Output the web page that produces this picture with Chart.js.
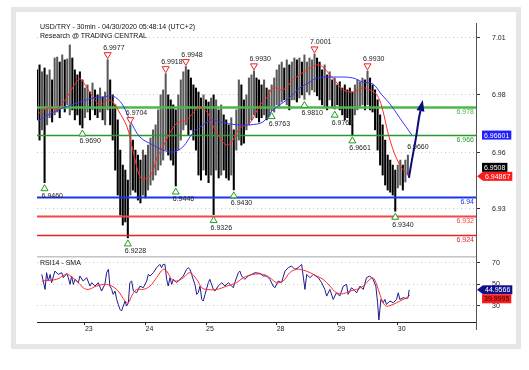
<!DOCTYPE html>
<html lang="en">
<head>
<meta charset="UTF-8">
<title>USD/TRY - 30min</title>
<script src="https://cdn.jsdelivr.net/npm/chart.js"></script>
<style>
  body { margin: 0; background: #fff; font-family: "Liberation Sans", Arial, sans-serif; }
  .wrap { position: relative; width: 529px; height: 370px; overflow: hidden; }
  .frame { position: absolute; left: 11px; top: 7px; width: 500px; height: 332px; border: 5px solid #e6e6e6; }
  canvas { position: absolute; left: 0; top: 0; }
  .caption { position: absolute; left: 40px; font-size: 7px; line-height: 8px; color: #111; white-space: nowrap; }
</style>
</head>
<body>
<div class="wrap">
  <div class="frame"></div>
  <canvas id="chart" width="529" height="370"></canvas>
  <div class="caption" style="top:22.5px">USD/TRY - 30min - 04/30/2020 05:48:14 (UTC+2)</div>
  <div class="caption" style="top:31.5px">Research @ TRADING CENTRAL</div>
  <div class="caption" style="top:259px">RSI14 - SMA</div>
</div>
<script>
// x is counted in trading hours from the left edge of the chart
const dayHours = [19, 43, 67, 95, 119, 143];
const dayLabels = ['23', '24', '25', '28', '29', '30'];

const priceTicks = [6.935, 6.9585, 6.9829, 7.0068];
const priceTickLabels = ['6.93', '6.96', '6.98', '7.01'];
const rsiTicks = [30, 50, 70];

// hourly high / low of USD/TRY
const priceHigh = [
  6.9934, 6.9955, 6.9926, 6.9942, 6.9913, 6.9934, 6.9892, 6.9984, 6.9988, 6.9967,
  6.9997, 6.9976, 6.9980, 7.0039, 6.9984, 6.9934, 6.9913, 6.9926, 6.9892, 6.9858,
  6.9871, 6.9841, 6.9879, 6.9850, 6.9829, 6.9858, 6.9820, 6.9841, 6.9977, 6.9892,
  6.9829, 6.9787, 6.9724, 6.9597, 6.9534, 6.9513, 6.9471, 6.9704, 6.9639, 6.9597,
  6.9576, 6.9555, 6.9597, 6.9576, 6.9618, 6.9648, 6.9682, 6.9703, 6.9766, 6.9829,
  6.9850, 6.9918, 6.9829, 6.9808, 6.9787, 6.9766, 6.9829, 6.9892, 6.9926, 6.9948,
  6.9934, 6.9900, 6.9871, 6.9858, 6.9841, 6.9816, 6.9829, 6.9808, 6.9799, 6.9816,
  6.9829, 6.9808, 6.9766, 6.9787, 6.9745, 6.9724, 6.9703, 6.9733, 6.9682, 6.9766,
  6.9892, 6.9871, 6.9808, 6.9829, 6.9900, 6.9913, 6.9930, 6.9900, 6.9892, 6.9871,
  6.9892, 6.9858, 6.9850, 6.9871, 6.9900, 6.9934, 6.9955, 6.9967, 6.9942, 6.9976,
  6.9955, 6.9967, 6.9984, 6.9976, 6.9984, 6.9967, 6.9997, 6.9967, 6.9984, 6.9976,
  7.0001, 6.9984, 6.9967, 6.9934, 6.9955, 6.9913, 6.9926, 6.9892, 6.9900, 6.9871,
  6.9884, 6.9858, 6.9871, 6.9850, 6.9858, 6.9841, 6.9871, 6.9892, 6.9884, 6.9900,
  6.9892, 6.9930, 6.9900, 6.9871, 6.9850, 6.9808, 6.9745, 6.9703, 6.9639, 6.9576,
  6.9555, 6.9534, 6.9513, 6.9534, 6.9555, 6.9534, 6.9555, 6.9576
];
const priceLow = [
  6.9724, 6.9639, 6.9682, 6.9460, 6.9703, 6.9733, 6.9715, 6.9745, 6.9757, 6.9733,
  6.9774, 6.9757, 6.9787, 6.9745, 6.9766, 6.9724, 6.9745, 6.9703, 6.9690, 6.9733,
  6.9757, 6.9724, 6.9766, 6.9745, 6.9733, 6.9757, 6.9724, 6.9703, 6.9766, 6.9703,
  6.9639, 6.9513, 6.9408, 6.9324, 6.9282, 6.9295, 6.9228, 6.9408, 6.9429, 6.9420,
  6.9387, 6.9375, 6.9408, 6.9396, 6.9429, 6.9450, 6.9471, 6.9492, 6.9513, 6.9534,
  6.9555, 6.9597, 6.9576, 6.9555, 6.9534, 6.9446, 6.9597, 6.9639, 6.9682, 6.9703,
  6.9661, 6.9682, 6.9639, 6.9597, 6.9492, 6.9471, 6.9513, 6.9492, 6.9460, 6.9492,
  6.9326, 6.9513, 6.9480, 6.9492, 6.9513, 6.9480, 6.9471, 6.9492, 6.9430, 6.9597,
  6.9639, 6.9618, 6.9626, 6.9682, 6.9703, 6.9724, 6.9745, 6.9733, 6.9715, 6.9733,
  6.9745, 6.9724, 6.9733, 6.9763, 6.9757, 6.9787, 6.9774, 6.9799, 6.9808, 6.9787,
  6.9766, 6.9808, 6.9808, 6.9799, 6.9816, 6.9829, 6.9810, 6.9841, 6.9829, 6.9850,
  6.9841, 6.9825, 6.9808, 6.9787, 6.9774, 6.9766, 6.9808, 6.9774, 6.9769, 6.9787,
  6.9766, 6.9745, 6.9724, 6.9733, 6.9703, 6.9661, 6.9745, 6.9766, 6.9774, 6.9787,
  6.9766, 6.9787, 6.9766, 6.9757, 6.9682, 6.9597, 6.9534, 6.9492, 6.9450, 6.9429,
  6.9420, 6.9408, 6.9340, 6.9438, 6.9450, 6.9429, 6.9463, 6.9492
];
const lastClose = 6.9508;

// bars that carry a high / low marker
const topMarks = [28, 37, 51, 59, 86, 110, 131];
const bottomMarks = [3, 18, 36, 55, 70, 78, 93, 106, 118, 125, 142];

// moving averages on price
const redMaHours = [0.4, 4.4, 7.9, 11.9, 14.3, 17.0, 19.8, 22.2, 25.0, 28.1, 30.1, 32.1, 35.7, 38.0, 40.8,
  42.8, 45.6, 47.5, 49.9, 52.7, 55.5, 59.4, 61.8, 64.6, 67.4, 69.3, 72.5, 75.3, 77.7, 80.4, 84.4, 88.4,
  91.1, 93.5, 97.5, 101.4, 107.0, 110.9, 113.3, 116.1, 118.9, 121.2, 125.2, 129.2, 131.9, 134.7, 136.7,
  139.9, 143.8, 147.8];
const redMaValues = [6.9749, 6.9774, 6.9770, 6.9820, 6.9862, 6.9896, 6.9858, 6.9820, 6.9787, 6.9808,
  6.9799, 6.9766, 6.9694, 6.9597, 6.9484, 6.9476, 6.9501, 6.9564, 6.9610, 6.9669, 6.9711, 6.9724,
  6.9753, 6.9778, 6.9757, 6.9711, 6.9648, 6.9618, 6.9639, 6.9690, 6.9711, 6.9787, 6.9816, 6.9858,
  6.9850, 6.9892, 6.9934, 6.9955, 6.9946, 6.9913, 6.9879, 6.9850, 6.9841, 6.9858, 6.9850, 6.9829,
  6.9778, 6.9639, 6.9534, 6.94867];
const blueMaHours = [0.4, 5.2, 10.3, 17.0, 22.2, 26.1, 30.1, 33.7, 36.8, 40.8, 46.0, 49.9, 53.9, 57.8,
  61.8, 65.8, 69.3, 72.5, 79.2, 84.4, 89.5, 93.5, 99.0, 104.2, 108.2, 110.9, 120.0, 125.2, 129.2,
  133.1, 136.7, 139.9, 143.8, 148.6];
const blueMaValues = [6.9719, 6.9749, 6.9774, 6.9799, 6.9816, 6.9820, 6.9824, 6.9791, 6.9724, 6.9652,
  6.9618, 6.9597, 6.9589, 6.9610, 6.9669, 6.9703, 6.9724, 6.9715, 6.9703, 6.9703, 6.9715, 6.9766,
  6.9808, 6.9858, 6.9883, 6.9900, 6.9904, 6.9900, 6.9883, 6.9875, 6.9829, 6.9791, 6.9732, 6.96601];

// support / resistance levels
const levelValues = [6.978, 6.966, 6.94, 6.932, 6.924];
const levelLabels = ['6.978', '6.966', '6.94', '6.932', '6.924'];
const levelColors = ['#4cb84c', '#2a9a2a', '#1c34f0', '#f24848', '#e02626'];
const levelWidths = [2.5, 1.5, 2, 2, 1.5];

// expected path arrow
const arrowHours = [147.4, 148.6, 150.2, 151.4, 152.0];
const arrowPrices = [6.9480, 6.9555, 6.9648, 6.9732, 6.9762];
const arrowLabel = '6.9660';
const arrowLabelPrice = 6.966;

// RSI 14 and its SMA
const rsiHours = [1.9, 3.2, 3.8, 4.5, 5.2, 5.8, 7.1, 8.4, 9.8, 10.4,
  11.8, 12.4, 13.1, 13.7, 14.4, 15.1, 16.4, 17.0, 18.3, 19.7,
  21.0, 21.7, 23.0, 24.3, 25.6, 26.9, 27.6, 28.3, 28.9, 29.6,
  30.2, 30.9, 31.6, 32.2, 32.9, 33.5, 34.2, 34.9, 35.5, 36.2,
  36.8, 37.5, 38.2, 39.5, 40.8, 42.1, 43.5, 44.1, 44.8, 46.1,
  47.4, 48.7, 49.4, 50.0, 50.7, 51.4, 52.0, 52.7, 53.4, 54.0,
  55.3, 56.7, 58.0, 59.3, 59.9, 60.6, 61.3, 61.9, 62.6, 63.3,
  63.9, 64.6, 65.3, 65.9, 66.6, 67.9, 68.5, 69.9, 70.5, 71.8,
  73.2, 74.5, 75.8, 76.5, 77.8, 78.4, 79.8, 80.4, 81.1, 82.4,
  83.7, 85.1, 86.4, 88.4, 89.7, 91.0, 92.3, 93.6, 94.3, 95.6,
  96.9, 98.3, 99.6, 100.9, 102.2, 103.5, 104.9, 105.5, 106.2, 106.9,
  108.2, 109.5, 111.5, 112.8, 114.1, 114.8, 116.1, 117.4, 118.7, 120.0,
  121.4, 122.7, 123.3, 124.7, 126.7, 128.0, 129.3, 130.6, 131.9, 133.2,
  134.3, 135.0, 135.5, 136.3, 137.2, 137.9, 138.5, 139.9, 141.2, 142.5,
  143.2, 143.8, 145.1, 146.5, 147.1, 147.5];
const rsiValues = [59.3, 45.3, 60.9, 53.1, 59.3, 51.6, 62.4, 59.3, 60.9, 56.2,
  60.2, 56.2, 50.0, 57.8, 50.0, 54.7, 51.6, 57.8, 53.1, 56.2,
  48.4, 51.6, 48.4, 51.6, 43.8, 50.0, 60.9, 64.0, 48.4, 45.3,
  40.7, 43.8, 36.0, 31.4, 26.7, 25.2, 29.8, 34.5, 29.8, 32.9,
  51.6, 53.1, 43.8, 42.2, 48.4, 46.9, 53.1, 59.3, 57.8, 60.9,
  65.5, 68.6, 65.5, 68.6, 68.6, 54.7, 48.4, 56.2, 50.0, 54.7,
  51.6, 54.7, 57.8, 64.0, 65.5, 64.0, 59.3, 54.7, 50.0, 40.7,
  42.2, 48.4, 36.0, 34.5, 40.7, 51.6, 54.7, 45.3, 43.8, 48.4,
  51.6, 48.4, 51.6, 50.0, 46.9, 51.6, 60.9, 62.4, 57.8, 54.7,
  57.8, 59.3, 60.9, 60.2, 57.8, 57.8, 54.7, 48.4, 46.9, 53.1,
  51.6, 62.4, 65.5, 67.1, 64.0, 65.5, 68.6, 57.8, 45.3, 59.3,
  56.2, 59.3, 56.2, 51.6, 45.3, 39.1, 45.3, 36.0, 42.2, 39.1,
  48.4, 50.0, 40.7, 46.9, 42.2, 48.4, 45.3, 56.2, 57.8, 54.7,
  48.4, 32.9, 16.8, 36.0, 32.9, 36.0, 31.4, 34.5, 32.9, 36.0,
  42.2, 36.0, 37.6, 36.7, 37.6, 44.9566];
const rsiMaHours = [1.9, 7.8, 11.8, 15.7, 18.3, 20.3, 23.6, 27.6, 31.6, 34.9,
  36.2, 37.5, 39.5, 42.1, 44.8, 47.4, 50.0, 51.4, 53.4, 55.3,
  58.0, 60.6, 63.3, 65.3, 67.2, 71.2, 75.2, 79.1, 81.7, 85.7,
  89.7, 92.3, 95.0, 97.6, 100.2, 102.9, 105.5, 108.2, 110.8, 113.4,
  116.1, 118.7, 121.4, 124.0, 126.7, 129.3, 131.9, 133.2, 134.6, 135.9,
  137.2, 138.5, 141.2, 143.8, 146.5, 147.8];
const rsiMaValues = [53.1, 54.7, 59.3, 53.1, 46.9, 45.3, 48.4, 50.0, 45.3, 34.5,
  32.9, 39.1, 45.3, 45.3, 48.4, 56.2, 64.0, 62.4, 54.7, 53.1,
  56.2, 60.9, 54.7, 46.9, 45.3, 45.3, 48.4, 51.6, 56.2, 59.3,
  59.3, 56.2, 51.6, 53.1, 60.9, 64.0, 63.3, 60.9, 57.8, 54.7,
  48.4, 42.2, 41.3, 43.8, 45.3, 48.4, 54.7, 56.2, 50.0, 40.7,
  32.9, 29.8, 31.4, 34.5, 37.6, 39.9995];

const FONT = '7px "Liberation Sans", Arial, sans-serif';
const pts = (xs, ys) => xs.map((v, i) => ({ x: v, y: ys[i] }));
const last = arr => arr[arr.length - 1];

// rising bars grey, falling bars black, like the up / down candles
const barColors = priceHigh.map((h, i) => {
  if (i === 0) return '#000';
  return h + priceLow[i] >= priceHigh[i - 1] + priceLow[i - 1] ? '#5a5a5a' : '#000';
});

function triangle(ctx, cx, tipY, baseY, color) {
  ctx.beginPath();
  ctx.moveTo(cx, tipY);
  ctx.lineTo(cx - 3.5, baseY);
  ctx.lineTo(cx + 3.5, baseY);
  ctx.closePath();
  ctx.fillStyle = '#fff';
  ctx.fill();
  ctx.strokeStyle = color;
  ctx.lineWidth = 1;
  ctx.stroke();
}

function tag(ctx, axisX, cy, text, bg, fg, pointer) {
  ctx.font = FONT;
  const w = ctx.measureText(text).width + 4;
  const h = 9;
  const left = axisX + (pointer ? 7 : 6);
  ctx.fillStyle = bg;
  ctx.fillRect(left, cy - h / 2, w, h);
  if (pointer) {
    ctx.beginPath();
    ctx.moveTo(axisX + 1, cy);
    ctx.lineTo(left, cy - h / 2);
    ctx.lineTo(left, cy + h / 2);
    ctx.closePath();
    ctx.fill();
  }
  ctx.fillStyle = fg;
  ctx.textAlign = 'left';
  ctx.textBaseline = 'middle';
  ctx.fillText(text, left + 2, cy + 0.5);
}

const overlay = {
  id: 'overlay',
  afterDatasetDraw(chart, args) {
    if (args.index !== 0) return;
    const { ctx, chartArea: a, scales: { y } } = chart;
    ctx.save();
    ctx.font = FONT;
    levelValues.forEach((v, k) => {
      const py = Math.round(y.getPixelForValue(v)) + 0.5;
      ctx.strokeStyle = levelColors[k];
      ctx.lineWidth = levelWidths[k];
      ctx.beginPath();
      ctx.moveTo(a.left, py);
      ctx.lineTo(a.right, py);
      ctx.stroke();
      ctx.fillStyle = levelColors[k];
      ctx.textAlign = 'right';
      ctx.textBaseline = 'top';
      ctx.fillText(levelLabels[k], a.right - 2, py + 1.5);
    });
    ctx.restore();
  },
  afterDatasetsDraw(chart) {
    const { ctx, chartArea: a, scales: { x, y, y2 } } = chart;
    ctx.save();
    ctx.font = FONT;

    // arrow head
    const n = arrowHours.length;
    const ax1 = x.getPixelForValue(arrowHours[n - 2]), ay1 = y.getPixelForValue(arrowPrices[n - 2]);
    const ax2 = x.getPixelForValue(arrowHours[n - 1]), ay2 = y.getPixelForValue(arrowPrices[n - 1]);
    const ang = Math.atan2(ay2 - ay1, ax2 - ax1);
    const ux = Math.cos(ang), uy = Math.sin(ang);
    ctx.fillStyle = '#0b0b7c';
    ctx.beginPath();
    ctx.moveTo(ax2 + ux * 11, ay2 + uy * 11);
    ctx.lineTo(ax2 - uy * 4, ay2 + ux * 4);
    ctx.lineTo(ax2 + uy * 4, ay2 - ux * 4);
    ctx.closePath();
    ctx.fill();
    ctx.fillStyle = '#222';
    ctx.textAlign = 'center';
    ctx.textBaseline = 'top';
    ctx.fillText(arrowLabel, x.getPixelForValue(arrowHours[2]) + 2, y.getPixelForValue(arrowLabelPrice) + 8);

    // high / low markers
    topMarks.forEach(i => {
      const px = x.getPixelForValue(i), py = y.getPixelForValue(priceHigh[i]);
      triangle(ctx, px, py - 1, py - 7, '#ee2222');
      ctx.fillStyle = '#222';
      ctx.textAlign = 'left';
      ctx.textBaseline = 'alphabetic';
      ctx.fillText(priceHigh[i].toFixed(4), px - 4.5, py - 9.5);
    });
    bottomMarks.forEach(i => {
      const px = x.getPixelForValue(i), py = y.getPixelForValue(priceLow[i]);
      triangle(ctx, px, py + 2, py + 8, '#229922');
      ctx.fillStyle = '#222';
      ctx.textAlign = 'left';
      ctx.textBaseline = 'top';
      ctx.fillText(priceLow[i].toFixed(4), px - 3, py + 10);
    });

    // separator between price and RSI panes
    ctx.fillStyle = '#c4c4c4';
    ctx.fillRect(a.left, y.bottom, a.right - a.left, 1.5);
    ctx.strokeStyle = '#555';
    ctx.lineWidth = 1;
    ctx.beginPath();
    ctx.moveTo(a.right + 0.5, a.bottom);
    ctx.lineTo(a.right + 0.5, a.bottom + 8);
    ctx.stroke();

    // last value tags
    const redY = y.getPixelForValue(last(redMaValues));
    tag(ctx, a.right, y.getPixelForValue(last(blueMaValues)), last(blueMaValues).toFixed(5), '#1f1fff', '#fff', false);
    tag(ctx, a.right, Math.min(y.getPixelForValue(lastClose), redY - 9), lastClose.toFixed(4), '#000', '#fff', false);
    tag(ctx, a.right, redY, last(redMaValues).toFixed(5), '#ff1a1a', '#fff', true);
    const rsiY = y2.getPixelForValue(last(rsiValues));
    tag(ctx, a.right, rsiY, last(rsiValues).toFixed(4), '#10108a', '#fff', true);
    tag(ctx, a.right, Math.max(y2.getPixelForValue(last(rsiMaValues)), rsiY + 9), last(rsiMaValues).toFixed(4), '#ff1a1a', '#111', false);
    ctx.restore();
  }
};

const tickFont = { size: 7, family: '"Liberation Sans", Arial, sans-serif' };

new Chart(document.getElementById('chart'), {
  type: 'bar',
  data: {
    datasets: [
      {
        type: 'bar',
        data: priceHigh.map((h, i) => ({ x: i, y: [priceLow[i], h] })),
        backgroundColor: barColors,
        barThickness: 1.4,
        grouped: false,
        yAxisID: 'y',
        order: 10
      },
      {
        type: 'line',
        data: pts(redMaHours, redMaValues),
        borderColor: '#ff2a2a',
        borderWidth: 1,
        pointRadius: 0,
        tension: 0.35,
        yAxisID: 'y',
        order: 5
      },
      {
        type: 'line',
        data: pts(blueMaHours, blueMaValues),
        borderColor: '#3636ff',
        borderWidth: 1,
        pointRadius: 0,
        tension: 0.35,
        yAxisID: 'y',
        order: 4
      },
      {
        type: 'line',
        data: pts(arrowHours, arrowPrices),
        borderColor: '#0b0b7c',
        borderWidth: 2,
        pointRadius: 0,
        tension: 0.3,
        yAxisID: 'y',
        order: 1
      },
      {
        type: 'line',
        data: pts(rsiHours, rsiValues),
        borderColor: '#1c1c90',
        borderWidth: 1,
        pointRadius: 0,
        tension: 0,
        yAxisID: 'y2',
        order: 3
      },
      {
        type: 'line',
        data: pts(rsiMaHours, rsiMaValues),
        borderColor: '#ff2a2a',
        borderWidth: 1,
        pointRadius: 0,
        tension: 0.35,
        yAxisID: 'y2',
        order: 2
      }
    ]
  },
  options: {
    responsive: false,
    animation: false,
    events: [],
    layout: { padding: { left: 37, top: 23, right: 0, bottom: 0 } },
    plugins: { legend: { display: false }, tooltip: { enabled: false } },
    scales: {
      x: {
        type: 'linear',
        min: 0,
        max: 174,
        offset: false,
        afterBuildTicks: s => { s.ticks = dayHours.map(v => ({ value: v })); },
        afterFit: s => { s.height = 48; },
        grid: { offset: false, drawOnChartArea: false, drawTicks: true, tickLength: 3, tickColor: '#222' },
        border: { color: '#222', width: 1 },
        ticks: {
          align: 'start', padding: 0, maxRotation: 0, autoSkip: false,
          font: tickFont, color: '#222',
          callback: (v, i) => dayLabels[i]
        }
      },
      y: {
        position: 'right',
        stack: 'panes',
        stackWeight: 233,
        min: 6.9152,
        max: 7.0131,
        afterBuildTicks: s => { s.ticks = priceTicks.map(v => ({ value: v })); },
        afterFit: s => { s.width = 53; },
        grid: { color: '#c8c8c8', tickColor: '#333', tickLength: 4 },
        border: { color: '#555', dash: [1, 3] },
        ticks: { padding: 12, font: tickFont, color: '#222', callback: (v, i) => priceTickLabels[i] }
      },
      y2: {
        position: 'right',
        stack: 'panes',
        stackWeight: 66,
        min: 15,
        max: 76.4,
        afterBuildTicks: s => { s.ticks = rsiTicks.map(v => ({ value: v })); },
        afterFit: s => { s.width = 53; },
        grid: { color: '#c8c8c8', tickColor: '#333', tickLength: 4 },
        border: { color: '#555', dash: [1, 3] },
        ticks: { padding: 12, font: tickFont, color: '#222', callback: v => String(v) }
      }
    }
  },
  plugins: [overlay]
});
</script>
</body>
</html>
